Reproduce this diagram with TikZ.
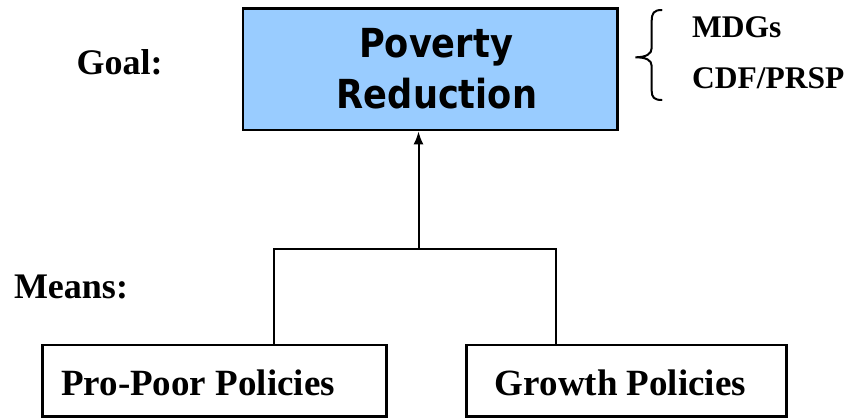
\documentclass[tikz,border=0pt]{standalone}
\usepackage{fontspec}
\setmainfont{Liberation Serif}
\newfontfamily\verd{DejaVu Sans}[FakeStretch=0.88]
\usetikzlibrary{arrows.meta}
\definecolor{goalblue}{HTML}{99CCFF}
\tikzset{
  boxshape/.style={draw=black, line width=2.5pt, inner sep=0pt, rectangle},
  serifbold/.style={font=\fontsize{36}{40}\selectfont\bfseries, inner sep=0pt, anchor=base},
  smallbold/.style={font=\fontsize{31.5}{36}\selectfont\bfseries, inner sep=0pt, anchor=base west},
  goaltext/.style={font=\verd\fontsize{40}{48}\selectfont\bfseries, inner sep=0pt, anchor=base},
  conn/.style={draw=black, line width=2pt},
  bracestyle/.style={draw=black, line width=2pt, line cap=round}
}
\begin{document}
\begin{tikzpicture}[x=1pt,y=-1pt]
\useasboundingbox (0,0) rectangle (851,418);
% top goal box
\node[boxshape, fill=goalblue, minimum width=374.3pt, minimum height=121.7pt] (pov) at (430.2,69.2) {};
\node[goaltext] (povt1) at (436,57) {Poverty};
\node[goaltext] (povt2) at (437,108) {Reduction};
% labels
\node[serifbold] (goal) at (119.5,74.5) {Goal:};
\node[serifbold] (means) at (71,298) {Means:};
\node[smallbold] (mdg) at (692,37) {MDGs};
\node[smallbold] (cdf) at (692,88) {CDF/PRSP};
% brace
\draw[bracestyle] (661.7,10) .. controls (654,10) and (651.7,13) .. (651.7,21) -- (651.7,48)
  .. controls (651.7,54) and (646,57.3) .. (635.5,57.3)
  .. controls (646,57.3) and (651.7,60) .. (651.7,66) -- (651.7,91)
  .. controls (651.7,97) and (654,100) .. (661.7,100);
% bottom boxes
\node[boxshape, minimum width=344pt, minimum height=71.7pt] (pp) at (214.7,380.85) {};
\node[boxshape, minimum width=320pt, minimum height=71.7pt] (gp) at (626.7,380.85) {};
\node[serifbold, font=\fontsize{37}{40}\selectfont\bfseries] (ppt) at (198,395) {Pro-Poor Policies};
\node[serifbold, font=\fontsize{37}{40}\selectfont\bfseries] (gpt) at (620.5,395) {Growth Policies};
% connectors
\coordinate (j) at (418.5,249.3);
\coordinate (jl) at (274,249.3);
\coordinate (jr) at (556,249.3);
\draw[conn] (jl |- pp.north) -- (jl) -- (jr) -- (jr |- gp.north);
\draw[conn, -{Latex[length=13pt,width=10pt]}] (j) -- (j |- pov.south);
\end{tikzpicture}
\end{document}
